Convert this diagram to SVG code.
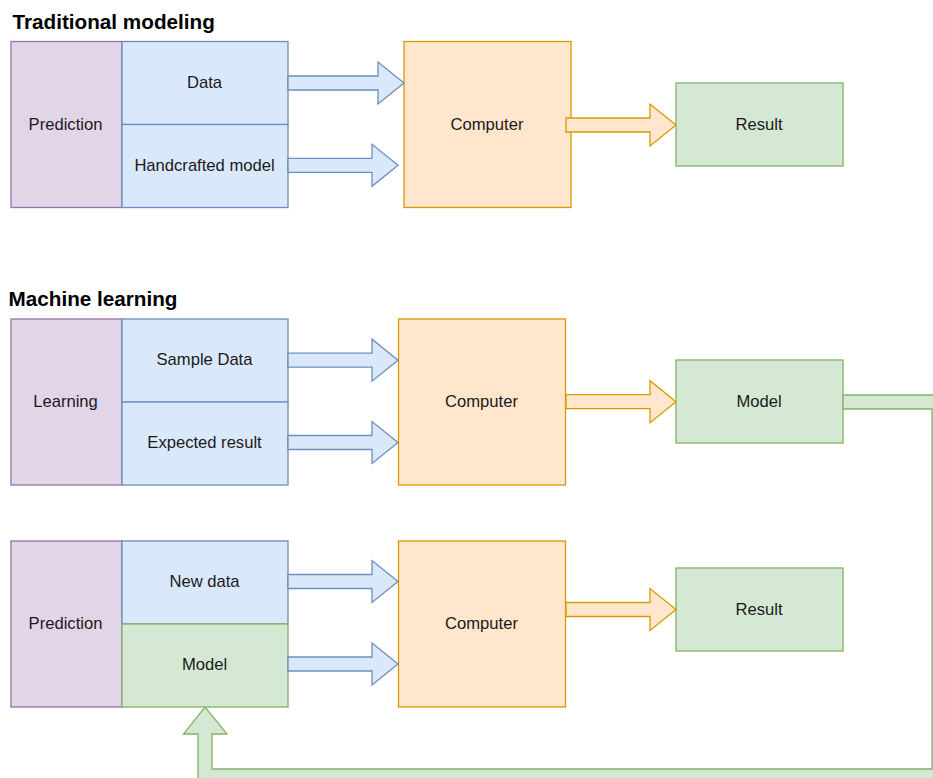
<svg xmlns="http://www.w3.org/2000/svg" width="933" height="778" viewBox="0 0 933 778">
  <style>
    .purple { fill: #e1d5e7; stroke: #9673a6; stroke-width: 1.3; }
    .blue { fill: #dae8fc; stroke: #6c8ebf; stroke-width: 1.3; }
    .orange { fill: #ffe6cc; stroke: #d79b00; stroke-width: 1.3; }
    .green { fill: #d5e8d4; stroke: #82b366; stroke-width: 1.3; }
    .label { font-family: "Liberation Sans", Arial, sans-serif; font-size: 16.6px; fill: #1a1a1a; text-anchor: middle; }
    .title { font-family: "Liberation Sans", Arial, sans-serif; font-size: 20.7px; font-weight: bold; fill: #000; }
  </style>
  <defs>
    <!-- block arrow, 110 long, pointing right, tip at (110,0) -->
    <path id="arrow110" d="M0,-7 H84 V-21 L110,0 L84,21 V7 H0 Z"/>
  </defs>
  <rect width="933" height="778" fill="#ffffff"/>

  <text class="title" x="12.5" y="29">Traditional modeling</text>
  <text class="title" x="8.5" y="306">Machine learning</text>

  <!-- Traditional modeling -->
  <g id="trad-prediction"><rect class="purple" x="11" y="41.5" width="111" height="166"/><text class="label" x="65.5" y="130">Prediction</text></g>
  <g id="trad-data"><rect class="blue" x="122" y="41.5" width="166" height="83"/><text class="label" x="204.5" y="88">Data</text></g>
  <g id="trad-model"><rect class="blue" x="122" y="124.5" width="166" height="83"/><text class="label" x="204.5" y="170.5">Handcrafted model</text></g>
  <g id="trad-computer"><rect class="orange" x="404" y="41.5" width="167" height="166"/><text class="label" x="487" y="130">Computer</text></g>
  <g id="trad-result"><rect class="green" x="676" y="83" width="167" height="83"/><text class="label" x="759" y="130">Result</text></g>

  <!-- Machine learning: training -->
  <g id="ml-learning"><rect class="purple" x="11" y="319" width="111" height="166"/><text class="label" x="65.5" y="407">Learning</text></g>
  <g id="ml-sample"><rect class="blue" x="122" y="319" width="166" height="83"/><text class="label" x="204.5" y="365">Sample Data</text></g>
  <g id="ml-expected"><rect class="blue" x="122" y="402" width="166" height="83"/><text class="label" x="204.5" y="448">Expected result</text></g>
  <g id="ml-computer"><rect class="orange" x="398.5" y="319" width="167" height="166"/><text class="label" x="481.5" y="407">Computer</text></g>
  <g id="ml-model"><rect class="green" x="676" y="360" width="167" height="83"/><text class="label" x="759" y="406.5">Model</text></g>

  <!-- Machine learning: prediction -->
  <g id="pr-prediction"><rect class="purple" x="11" y="541" width="111" height="166"/><text class="label" x="65.5" y="629">Prediction</text></g>
  <g id="pr-newdata"><rect class="blue" x="122" y="541" width="166" height="83"/><text class="label" x="204.5" y="587">New data</text></g>
  <g id="pr-model"><rect class="green" x="122" y="624" width="166" height="83"/><text class="label" x="204.5" y="670">Model</text></g>
  <g id="pr-computer"><rect class="orange" x="398.5" y="541" width="167" height="166"/><text class="label" x="481.5" y="629">Computer</text></g>
  <g id="pr-result"><rect class="green" x="676" y="568" width="167" height="83"/><text class="label" x="759" y="614.5">Result</text></g>

  <g id="connectors">
    <!-- traditional -->
    <path class="blue" d="M288,76 H378 V62 L404,83 L378,104 V90 H288 Z"/>
    <use href="#arrow110" class="blue" transform="translate(288,165.3)"/>
    <use href="#arrow110" class="orange" transform="translate(566,125)"/>
    <!-- training -->
    <use href="#arrow110" class="blue" transform="translate(288,360.2)"/>
    <use href="#arrow110" class="blue" transform="translate(288,442.5)"/>
    <use href="#arrow110" class="orange" transform="translate(566,401.7)"/>
    <!-- prediction -->
    <use href="#arrow110" class="blue" transform="translate(288,581.5)"/>
    <use href="#arrow110" class="blue" transform="translate(288,664)"/>
    <use href="#arrow110" class="orange" transform="translate(566,609.5)"/>
    <!-- trained model fed back into prediction -->
    <path class="green" d="M843,395 H946 V783 H198 V734 H183.5 L205,707 L227,734 H212 V769 H932 V409 H843 Z"/>
  </g>
</svg>
